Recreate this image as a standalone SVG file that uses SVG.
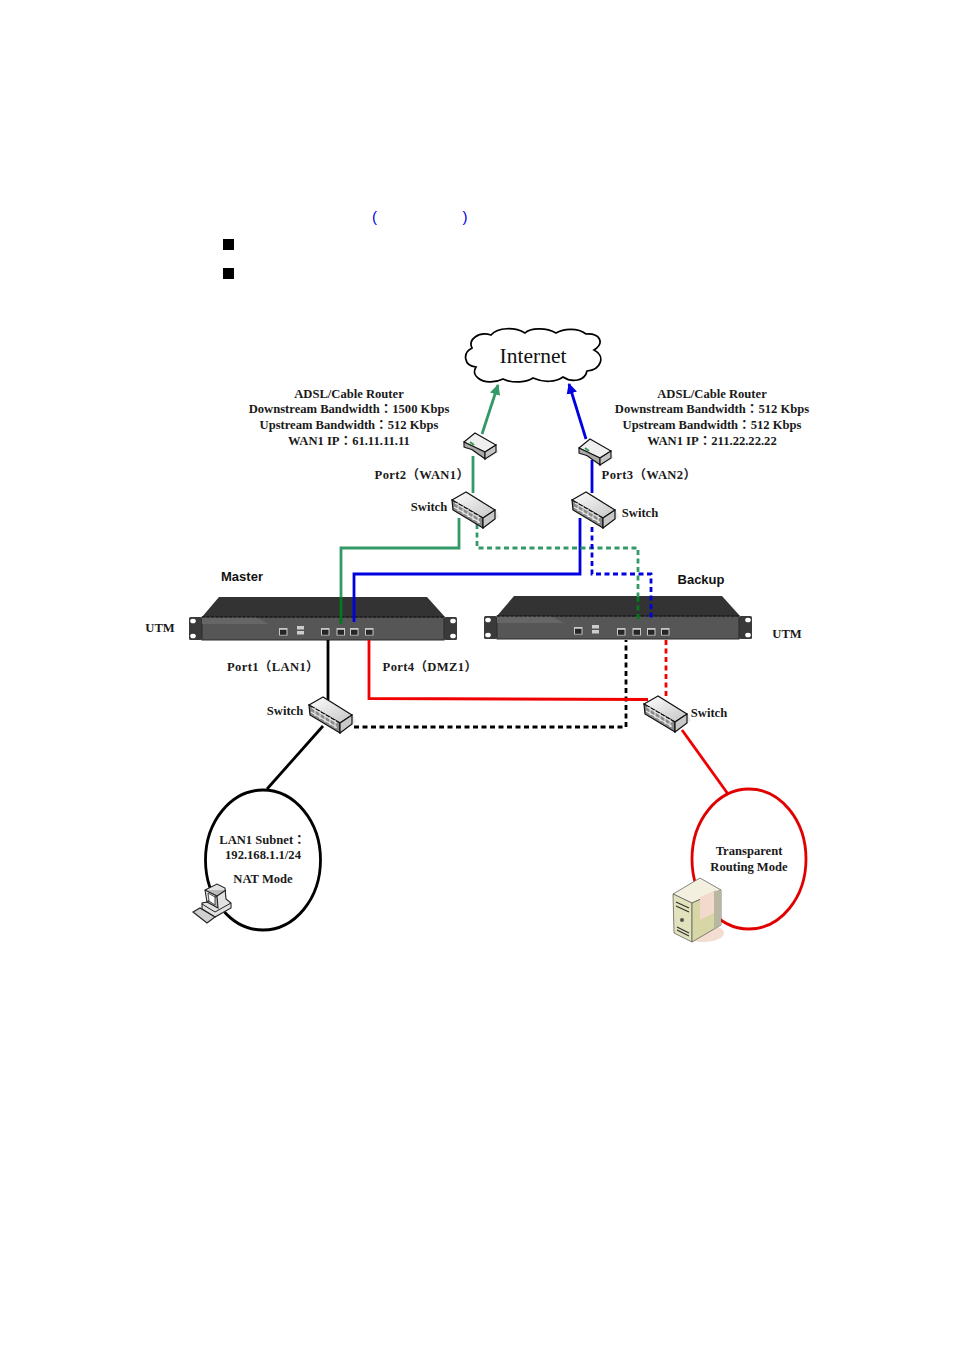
<svg xmlns="http://www.w3.org/2000/svg" width="954" height="1350" viewBox="0 0 954 1350">
<style>
text{font-family:"Liberation Serif","Noto Sans CJK TC",serif;font-weight:bold;font-size:12.600px;fill:#1a1a1a;text-anchor:middle;text-spacing-trim:space-all}
.sans{font-family:"Liberation Sans","Noto Sans CJK TC",sans-serif;font-size:13px;fill:#111}
.p{letter-spacing:.35px}
.l{fill:none;stroke-width:2.800}
.d{stroke-dasharray:5 3.500}
.g{stroke:#339966}.gd{stroke:#007a1e}.b{stroke:#0000e0}.r{stroke:#f00000}.k{stroke:#000}
</style>
<defs>
<linearGradient id="top" x1="0" y1="0" x2="1" y2="1"><stop offset="0" stop-color="#fff"/><stop offset="1" stop-color="#c4c4c4"/></linearGradient>
<marker id="ag" viewBox="0 0 10 10" refX="9" refY="5" markerWidth="3.800" markerHeight="4.200" orient="auto" markerUnits="strokeWidth"><path d="M0 0L10 5L0 10Z" fill="#339966"/></marker>
<marker id="ab" viewBox="0 0 10 10" refX="9" refY="5" markerWidth="3.800" markerHeight="4.200" orient="auto" markerUnits="strokeWidth"><path d="M0 0L10 5L0 10Z" fill="#0000e0"/></marker>
<g id="sw">
<path d="M14 37L33 25L30 18L17 36Z" fill="#ddd" fill-opacity=".6"/>
<path d="M0 0L-14 8L17 26L29 18Z" fill="url(#top)" stroke="#111" stroke-width="1.200"/>
<path d="M-14 8L-13 18L17 36L17 26Z" fill="#8a8a8a" stroke="#111" stroke-width="1.200"/>
<path d="M17 26L29 18L29 27L17 36Z" fill="#c8c8c8" stroke="#111" stroke-width="1.200"/>
<path d="M-11 11L14 26M-12 15L14 30.500M-8 11L-8 19M-3 14L-3 22M2 17L2 25M7 20L7 28M12 23L12 31" stroke="#e8e8e8" stroke-width="1.100" fill="none"/>
</g>
<g id="rt">
<path d="M11 27L24 19L21 14Z" fill="#ddd" fill-opacity=".6"/>
<path d="M0 0L-11 9L10 19L21 12Z" fill="#efefef" stroke="#111" stroke-width="1.100"/>
<path d="M-11 9L-11 14C-7 16-4 15-1 18L3 21C6 23 9 25 10 26L10 19Z" fill="#aaa" stroke="#111" stroke-width="1.100"/>
<path d="M10 19L21 12L21 19L10 26Z" fill="#c4c4c4" stroke="#111" stroke-width="1.100"/>
<path d="M-5 9L-1 12" stroke="#3a9a50" stroke-width="2"/>
</g>
<g id="pt"><rect x="0" y="0" width="8.500" height="7.500" fill="#c8c8c8"/><rect x="1" y="1.800" width="6.500" height="5" fill="#262626"/></g>
<g id="utm">
<path d="M30 -20H238L256 0H13Z" fill="#333"/>
<rect x="0" y="0" width="13" height="23" rx="1.500" fill="#3a3a3a"/>
<rect x="255" y="0" width="13" height="23" rx="1.500" fill="#3a3a3a"/>
<ellipse cx="4" cy="4" rx="2.800" ry="2.300" fill="#fff"/><ellipse cx="4" cy="19" rx="2.800" ry="2.300" fill="#fff"/>
<ellipse cx="264" cy="4" rx="2.800" ry="2.300" fill="#fff"/><ellipse cx="264" cy="19" rx="2.800" ry="2.300" fill="#fff"/>
<rect x="13" y="0" width="242" height="23" fill="#565656" stroke="#2a2a2a"/>
<path d="M13 0.500H68L80 7H13Z" fill="#666"/>
<path d="M13 0H255" stroke="#111" stroke-width="1.200" stroke-dasharray="3 1.500"/>
<use href="#pt" x="90" y="11"/>
<rect x="108" y="9" width="7" height="3.500" fill="#ccc"/><rect x="108" y="14" width="7" height="3.500" fill="#ccc"/>
</g>
</defs>
<rect width="954" height="1350" fill="#fff"/>
<g id="heading">
<text x="374.500" y="222" style="font-family:'Liberation Sans',sans-serif;font-weight:normal;font-size:15px;fill:#0000e0">(</text>
<text x="465" y="222" style="font-family:'Liberation Sans',sans-serif;font-weight:normal;font-size:15px;fill:#0000e0">)</text>
<rect x="223" y="239" width="11" height="11" fill="#000"/>
<rect x="223" y="268" width="11" height="11" fill="#000"/>
</g>
<g id="node-master"><use href="#utm" x="189" y="617"/><use href="#pt" x="321" y="628"/><use href="#pt" x="336.500" y="628"/><use href="#pt" x="350" y="628"/><use href="#pt" x="365" y="628"/></g>
<g id="node-backup"><use href="#utm" x="484" y="616"/><use href="#pt" x="617" y="628"/><use href="#pt" x="632.500" y="628"/><use href="#pt" x="647" y="628"/><use href="#pt" x="661" y="628"/></g>
<g id="connectors">
<path class="l g" d="M482 434L498 385" marker-end="url(#ag)"/>
<path class="l b" d="M586 439L569 384" marker-end="url(#ab)"/>
<path class="l g" d="M473 456V493"/>
<path class="l b" d="M592 460V493"/>
<path class="l g" d="M459 518V548H341V597"/>
<path class="l gd" d="M341 597V624"/>
<path class="l b" d="M580 518V574H354V622"/>
<path class="l g d" d="M477 524V548H638V597"/>
<path class="l gd d" d="M638 597V620"/>
<path class="l b d" d="M592 527V574H651V620"/>
<path class="l k" d="M328 640V700"/>
<path class="l k" d="M323 726L267 789"/>
<path class="l k d" d="M354 727H626V640"/>
<path class="l r" d="M369 640V698.500L648 699.500"/>
<path class="l r d" d="M666 640V697"/>
<path class="l r" d="M682 730L728 794"/>
</g>
<g id="node-cloud">
<path d="M478 378C484 383 495 383 503 379C514 384 527 382 533 378C544 383 556 382 563 377C572 383 585 381 587 371C601 370 606 356 594 350C605 343 600 333 586 334C577 327 563 329 556 333C546 327 530 328 525 333C515 327 498 327 491 335C478 331 468 340 472 348C462 353 464 366 476 367C473 372 475 376 478 378Z" fill="#fff" stroke="#000" stroke-width="1.700"/>
<text x="533" y="363" style="font-weight:normal;font-size:21.500px;fill:#111">Internet</text>
</g>
<g id="node-router1"><use href="#rt" x="475" y="433"/></g>
<g id="node-router2"><use href="#rt" x="590" y="439"/></g>
<g id="node-switch1"><use href="#sw" x="466" y="492"/><text x="429" y="511">Switch</text></g>
<g id="node-switch2"><use href="#sw" x="586" y="492"/><text x="640" y="517">Switch</text></g>
<g id="node-switch3"><use href="#sw" x="323" y="697"/><text x="285" y="715">Switch</text></g>
<g id="node-switch4"><use href="#sw" x="658" y="696"/><text x="709" y="717">Switch</text></g>
<g id="node-lan">
<ellipse cx="263" cy="860" rx="57.500" ry="70" fill="none" stroke="#000" stroke-width="2.800"/>
<text x="262.500" y="844">LAN1 Subnet：</text>
<text x="263" y="859">192.168.1.1/24</text>
<text x="263" y="883">NAT Mode</text>
<g id="pc">
<path d="M202 903L230 895L234 905L215 919Z" fill="#fff"/>
<path d="M205 890L217 884L225 888L226 899L231 903V908L215 917L202 909V903L207 902Z" fill="#e2e2e2" stroke="#222" stroke-width="1.100"/>
<path d="M205 890L217 896L226 890M217 896L218 908L207 902Z" fill="#bbb" stroke="#222" stroke-width="1.100"/>
<path d="M208 893L215 897V905L209 901Z" fill="#fff" stroke="#222" stroke-width=".8"/>
<path d="M202 904L215 912L231 903" fill="none" stroke="#222" stroke-width="1"/>
<path d="M193 912L200 908L215 917L207 923Z" fill="#d0d0d0" stroke="#222" stroke-width="1.100"/>
</g>
</g>
<g id="node-transparent">
<ellipse cx="749" cy="859" rx="57" ry="70" fill="none" stroke="#e00000" stroke-width="2.800"/>
<text x="749" y="855">Transparent</text>
<text x="749" y="871">Routing Mode</text>
<g id="server">
<ellipse cx="703" cy="933" rx="21" ry="9" fill="#f3dcd0"/>
<path d="M673 894L700 878L721 890V925L692 942L674 933Z" fill="#f3d8cc"/>
<path d="M673 894L700 878L721 890L692 903Z" fill="#f4f0e0" stroke="#555" stroke-width=".7"/>
<path d="M673 894L692 903V942L674 933Z" fill="#e2e2bc" stroke="#555" stroke-width=".7"/>
<path d="M692 903L721 890V925L692 942Z" fill="#d6d6a6" stroke="#555" stroke-width=".7"/>
<path d="M700 897L714 891V913L700 920Z" fill="#f3d8cc"/>
<path d="M714 891L721 890V925L714 929Z" fill="#b8b8a0"/>
<path d="M676 902L689 908M676 906L689 912M677 927L689 933M677 930L689 936" stroke="#333" stroke-width="1.200"/>
<circle cx="682" cy="920" r="2" fill="#555"/>
</g>
</g>
<g id="labels">
<text x="349" y="398">ADSL/Cable Router</text>
<text x="349" y="413">Downstream Bandwidth：1500 Kbps</text>
<text x="349" y="429">Upstream Bandwidth：512 Kbps</text>
<text x="349" y="445">WAN1 IP：61.11.11.11</text>
<text x="712" y="398">ADSL/Cable Router</text>
<text x="712" y="413">Downstream Bandwidth：512 Kbps</text>
<text x="712" y="429">Upstream Bandwidth：512 Kbps</text>
<text x="712" y="445">WAN1 IP：211.22.22.22</text>
<text class="p" x="422" y="479">Port2（WAN1）</text>
<text class="p" x="649" y="479">Port3（WAN2）</text>
<text class="p" x="273" y="671">Port1（LAN1）</text>
<text class="p" x="430" y="671">Port4（DMZ1）</text>
<text x="160" y="632">UTM</text>
<text x="787" y="638">UTM</text>
<text class="sans" x="242" y="581">Master</text>
<text class="sans" x="701" y="584">Backup</text>
</g>
</svg>
